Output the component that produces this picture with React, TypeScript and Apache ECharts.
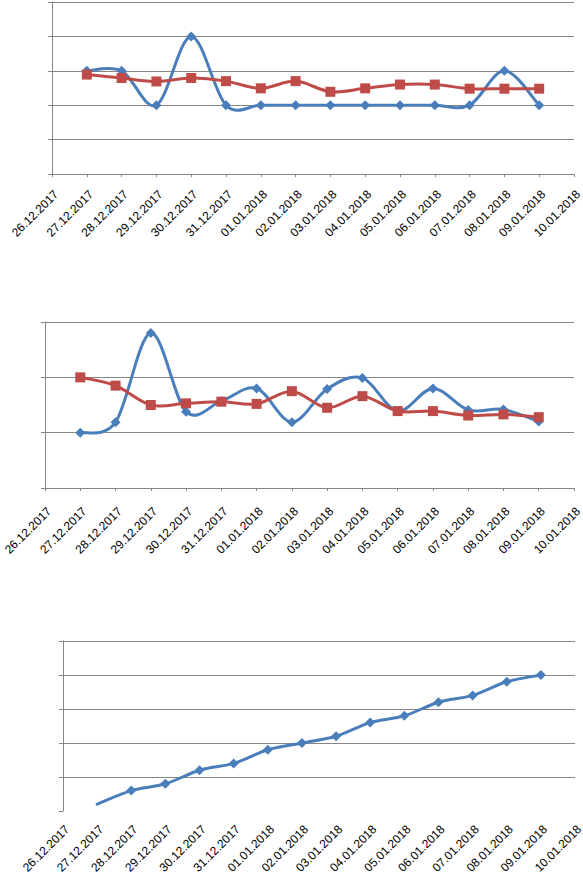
import React, { useEffect, useRef } from "react";
import * as echarts from "echarts";

const categories = [
  "26.12.2017", "27.12.2017", "28.12.2017", "29.12.2017", "30.12.2017", "31.12.2017",
  "01.01.2018", "02.01.2018", "03.01.2018", "04.01.2018", "05.01.2018", "06.01.2018",
  "07.01.2018", "08.01.2018", "09.01.2018", "10.01.2018",
];

// values for 27.12.2017 .. 09.01.2018
const chart1Blue = [3, 3, 2, 4, 2, 2, 2, 2, 2, 2, 2, 2, 3, 2];
const chart1Red = [2.89, 2.79, 2.69, 2.79, 2.7, 2.49, 2.7, 2.39, 2.49, 2.6, 2.6, 2.48, 2.48, 2.48];
const chart2Blue = [1.0, 1.19, 2.8, 1.38, 1.57, 1.8, 1.19, 1.79, 1.99, 1.39, 1.8, 1.41, 1.42, 1.2];
const chart2Red = [2.0, 1.85, 1.5, 1.53, 1.56, 1.52, 1.75, 1.45, 1.66, 1.39, 1.39, 1.31, 1.33, 1.28];
const chart3Blue = [0.2, 0.6, 0.8, 1.2, 1.4, 1.8, 2.0, 2.2, 2.6, 2.8, 3.2, 3.4, 3.8, 4.0];

const yMax = [5, 3, 5];

const BLUE = "#4A7EBB";
const RED = "#BE4B48";
const GRID = "#868686";

const pad = (arr: any[]) => [null, ...arr, null];

// Excel-like smoothed curve (Catmull-Rom through the data points), drawn via the axes' coord()
const curveSeries = (i: number, values: number[], color: string, z: number) => ({
  type: "custom",
  coordinateSystem: "cartesian2d",
  xAxisIndex: i,
  yAxisIndex: i,
  silent: true,
  z,
  data: values.slice(0, -1).map((v, k) => [k + 1, v]),
  encode: { x: 0, y: 1 },
  renderItem: (params: any, api: any) => {
    const n = values.length;
    const k = params.dataIndex;
    const P = (j: number) => {
      const jj = Math.max(0, Math.min(n - 1, j));
      return api.coord([jj + 1, values[jj]]);
    };
    const p0 = P(k - 1);
    const p1 = P(k);
    const p2 = P(k + 1);
    const p3 = P(k + 2);
    const t = 1 / 6;
    return {
      type: "bezierCurve",
      shape: {
        x1: p1[0],
        y1: p1[1],
        cpx1: p1[0] + (p2[0] - p0[0]) * t,
        cpy1: p1[1] + (p2[1] - p0[1]) * t,
        cpx2: p2[0] - (p3[0] - p1[0]) * t,
        cpy2: p2[1] - (p3[1] - p1[1]) * t,
        x2: p2[0],
        y2: p2[1],
      },
      style: { stroke: color, lineWidth: 3, fill: "none", lineCap: "round" },
    };
  },
});

const markerSeries = (i: number, data: any[], color: string, symbol: string, size: number, z: number) => ({
  type: "line",
  xAxisIndex: i,
  yAxisIndex: i,
  data,
  symbol,
  symbolSize: size,
  showAllSymbol: true,
  itemStyle: { color },
  lineStyle: { width: 0, opacity: 0 },
  z,
});

export default function App() {
  const ref = useRef<HTMLDivElement>(null);
  useEffect(() => {
    if (!ref.current) return;
    const chart = echarts.init(ref.current, undefined, { renderer: "svg" });
    const grids = [
      { left: 52, top: 2, width: 522, height: 172, outerBoundsMode: "none", containLabel: false },
      { left: 45, top: 322, width: 529, height: 166, outerBoundsMode: "none", containLabel: false },
      { left: 63, top: 641, width: 512, height: 170, outerBoundsMode: "none", containLabel: false },
    ];
    const margins = [14, 17, 12];
    const xAxis = grids.map((_, i) => ({
      type: "category",
      gridIndex: i,
      data: categories,
      boundaryGap: false,
      axisLine: { show: i !== 2, lineStyle: { color: GRID, width: 1 } },
      axisTick: { show: i !== 2, length: 3, lineStyle: { color: GRID } },
      axisLabel: {
        interval: 0,
        rotate: 45,
        verticalAlign: "top",
        align: "right",
        margin: margins[i],
        color: "#000",
        fontSize: 12,
        fontFamily: "Liberation Sans",
      },
      splitLine: { show: false },
    }));
    const yAxis = grids.map((_, i) => ({
      type: "value",
      gridIndex: i,
      min: 0,
      max: yMax[i],
      interval: 1,
      axisLine: { show: true, lineStyle: { color: GRID, width: 1 } },
      axisTick: { show: true, length: 4, lineStyle: { color: GRID } },
      axisLabel: { show: false },
      splitLine: { show: true, showMinLine: i !== 2, lineStyle: { color: GRID, width: 1 } },
    }));
    chart.setOption({
      animation: false,
      backgroundColor: "#fff",
      grid: grids,
      xAxis,
      yAxis,
      series: [
        curveSeries(0, chart1Blue, BLUE, 2),
        markerSeries(0, pad(chart1Blue), BLUE, "diamond", 10, 3),
        curveSeries(0, chart1Red, RED, 4),
        markerSeries(0, pad(chart1Red), RED, "rect", 10, 5),
        curveSeries(1, chart2Blue, BLUE, 2),
        markerSeries(1, pad(chart2Blue), BLUE, "diamond", 10, 3),
        curveSeries(1, chart2Red, RED, 4),
        markerSeries(1, pad(chart2Red), RED, "rect", 10, 5),
        curveSeries(2, chart3Blue, BLUE, 2),
        markerSeries(
          2,
          pad(chart3Blue.map((v, k) => (k === 0 ? { value: v, symbol: "none" } : v))),
          BLUE,
          "diamond",
          10,
          3
        ),
      ],
    });
    return () => chart.dispose();
  }, []);
  return (
    <div
      ref={ref}
      style={{ position: "absolute", left: 0, top: 0, width: 583, height: 877, background: "#fff" }}
    />
  );
}
